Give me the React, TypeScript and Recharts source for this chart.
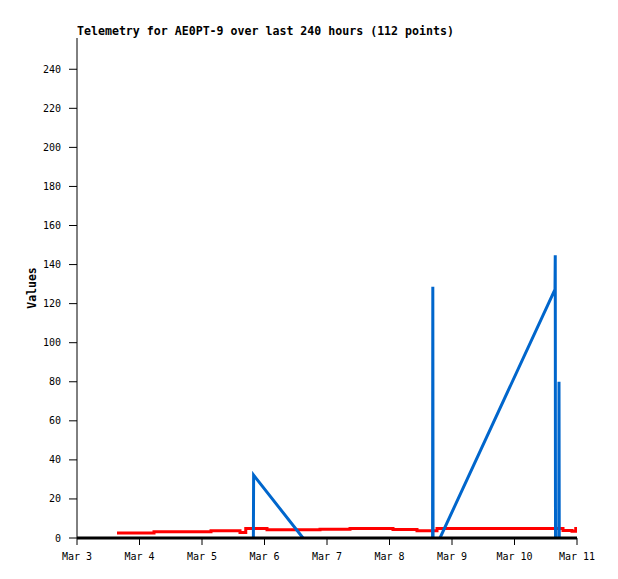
import React from 'react';
import { LineChart, Line, XAxis, YAxis } from 'recharts';

// x values are days since Mar 3 00:00
const dayLabels = ['Mar 3', 'Mar 4', 'Mar 5', 'Mar 6', 'Mar 7', 'Mar 8', 'Mar 9', 'Mar 10', 'Mar 11'];
const dayTicks = [0, 1, 2, 3, 4, 5, 6, 7, 8];
const valueTicks = [0, 20, 40, 60, 80, 100, 120, 140, 160, 180, 200, 220, 240];

const redTimes = [0.64, 1.232, 2.144, 2.608, 2.7, 3.04, 3.888, 4.368, 5.056, 5.44, 5.76, 7.776, 7.92, 7.98, 8.0];
const redValues = [2.6, 3.2, 3.7, 2.8, 4.9, 4.2, 4.5, 4.9, 4.3, 3.7, 4.9, 3.8, 3.5, 4.9, 4.9];

const blueTimes = [2.822, 2.826, 3.616, 3.62, 5.689, 5.693, 5.697, 5.70, 5.808, 7.648, 7.652, 7.656, 7.66, 7.708, 7.712, 7.716];
const blueValues: (number | null)[] = [0, 32.2, 0, null, 0, 128.6, 0, null, 0, 127.3, 144.8, 0, null, 0, 80, 0];

const redData = redTimes.map((t, i) => ({ t, v: redValues[i] }));
const blueData = blueTimes.map((t, i) => ({ t, v: blueValues[i] }));

const MONO = '"DejaVu Sans Mono", "Liberation Mono", monospace';

const YLabel = (props: any) => {
  const vb = props.viewBox || { x: 0, y: 0, width: 0, height: 0 };
  const cx = vb.x + 24;
  const cy = vb.y + vb.height / 2;
  return (
    <text
      x={cx}
      y={cy}
      transform={`rotate(-90 ${cx} ${cy})`}
      textAnchor="middle"
      dominantBaseline="central"
      fontFamily={MONO}
      fontWeight="bold"
      fontSize={11.5}
      fill="#000"
    >
      Values
    </text>
  );
};

export default function App() {
  return (
    <div style={{ position: 'relative', width: 618, height: 571 }}>
      <div
        style={{
          position: 'absolute',
          left: 69,
          top: 16,
          fontFamily: MONO,
          fontWeight: 'bold',
          fontSize: 11.6,
          lineHeight: '14px',
          color: '#000',
          whiteSpace: 'nowrap',
        }}
      >
        Telemetry for AE0PT-9 over last 240 hours (112 points)
      </div>
      <LineChart width={618} height={571} margin={{ top: 30, right: 49, bottom: 11, left: 0 }}>
        <XAxis
          xAxisId="main"
          dataKey="t"
          type="number"
          domain={[0, 8]}
          ticks={dayTicks}
          tickFormatter={(v: number) => dayLabels[Math.round(v)]}
          allowDataOverflow
          height={30}
          tickSize={7}
          tickMargin={8}
          axisLine={{ stroke: '#000', strokeWidth: 3 }}
          tickLine={{ stroke: '#000' }}
          tick={{ fill: '#000', fontFamily: MONO, fontSize: 10 }}
        />
        <XAxis
          xAxisId="top"
          orientation="top"
          dataKey="t"
          type="number"
          domain={[0, 8]}
          height={0}
          tick={false}
          tickLine={false}
          axisLine={{ stroke: '#555', strokeWidth: 1 }}
        />
        <YAxis
          yAxisId="main"
          type="number"
          domain={[0, 256]}
          ticks={valueTicks}
          allowDataOverflow
          width={69}
          tickSize={8}
          tickMargin={8}
          axisLine={{ stroke: '#000', strokeWidth: 1 }}
          tickLine={{ stroke: '#000' }}
          tick={{ fill: '#000', fontFamily: MONO, fontSize: 10 }}
          label={<YLabel />}
        />
        <YAxis
          yAxisId="right"
          orientation="right"
          type="number"
          domain={[0, 256]}
          width={0}
          tick={false}
          tickLine={false}
          axisLine={{ stroke: '#555', strokeWidth: 1 }}
        />
        <Line
          xAxisId="main"
          yAxisId="main"
          data={redData}
          dataKey="v"
          type="stepAfter"
          stroke="#ff0000"
          strokeWidth={3}
          dot={false}
          isAnimationActive={false}
        />
        <Line
          xAxisId="main"
          yAxisId="main"
          data={blueData}
          dataKey="v"
          type="linear"
          stroke="#0066cc"
          strokeWidth={3}
          dot={false}
          connectNulls={false}
          isAnimationActive={false}
        />
      </LineChart>
    </div>
  );
}
